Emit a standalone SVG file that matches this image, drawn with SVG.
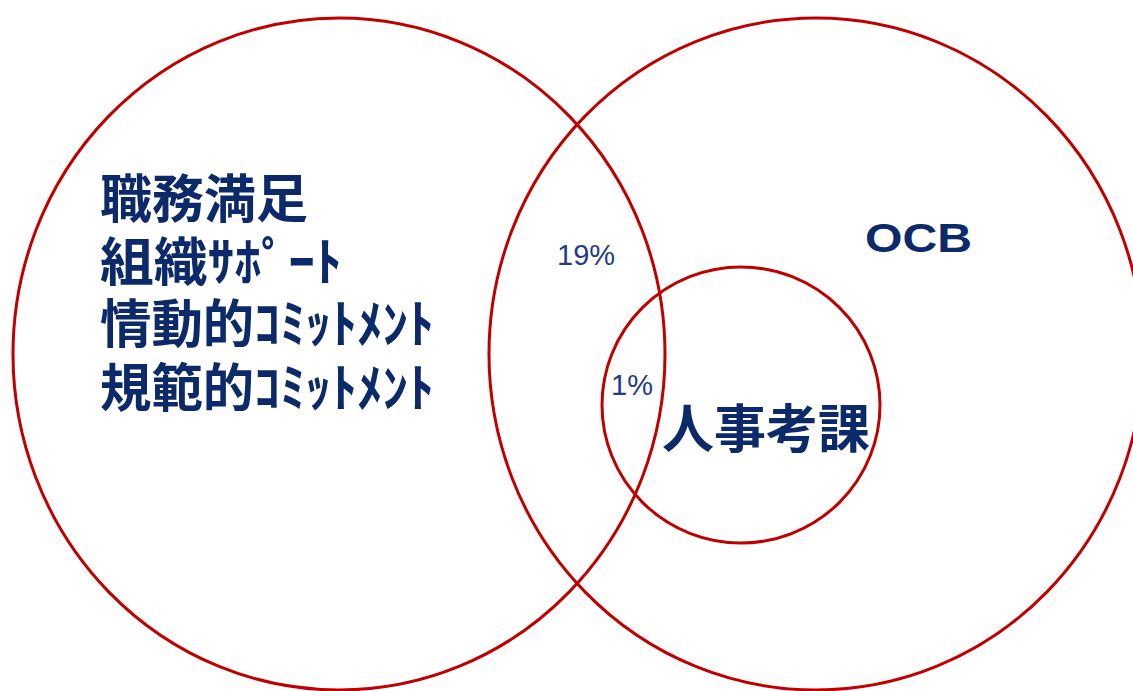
<svg xmlns="http://www.w3.org/2000/svg" width="1133" height="691" viewBox="0 0 1133 691">
<style>
.ring{fill:none;stroke:#C00000;stroke-width:3}
.jp{font-family:"Noto Sans CJK JP","Noto Sans CJK SC",sans-serif;font-weight:bold;fill:#0C2A6A;font-size:52px}
.pct{font-family:"Liberation Sans",Arial,sans-serif;fill:#1F3C88;font-size:29px}
.ocb{font-family:"Liberation Sans",Arial,sans-serif;font-weight:bold;fill:#0C2A6A;font-size:40px}
</style>
<rect width="1133" height="691" fill="#ffffff"/>
<g id="left-circle">
<ellipse class="ring" cx="339" cy="354" rx="326" ry="336"/>
<text class="jp" x="100" y="218">職務満足</text>
<text class="jp" x="100" y="281" textLength="242" lengthAdjust="spacingAndGlyphs">組織ｻﾎﾟｰﾄ</text>
<text class="jp" x="100" y="343" textLength="334" lengthAdjust="spacingAndGlyphs">情動的ｺﾐｯﾄﾒﾝﾄ</text>
<text class="jp" x="100" y="407" textLength="334" lengthAdjust="spacingAndGlyphs">規範的ｺﾐｯﾄﾒﾝﾄ</text>
</g>
<g id="right-circle">
<ellipse class="ring" cx="816" cy="354" rx="327" ry="336"/>
<text class="ocb" x="865" y="252" textLength="107" lengthAdjust="spacingAndGlyphs">OCB</text>
</g>
<g id="small-circle">
<ellipse class="ring" cx="741" cy="405" rx="139" ry="138"/>
<text class="jp" x="662" y="448">人事考課</text>
</g>
<g id="labels">
<text class="pct" x="557" y="265">19%</text>
<text class="pct" x="611" y="395">1%</text>
</g>
</svg>
